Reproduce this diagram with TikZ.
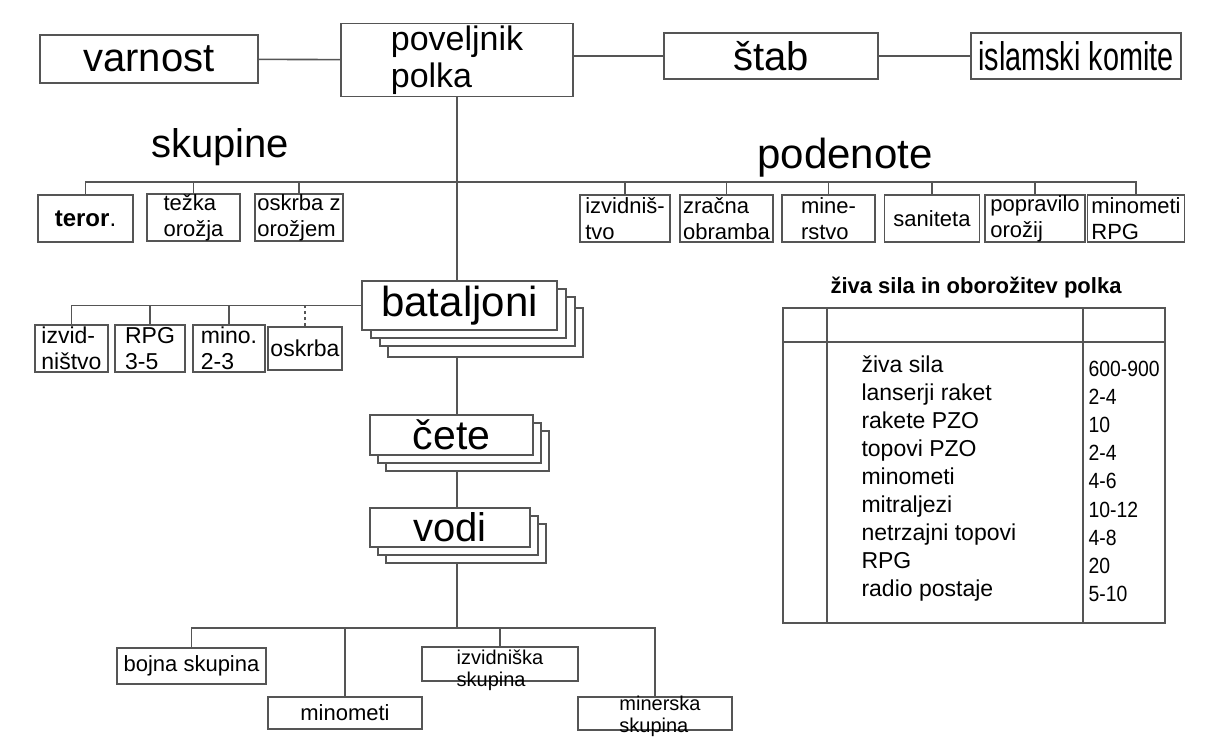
\documentclass[tikz,border=0pt]{standalone}
\usepackage{fontspec}
\setmainfont{Liberation Sans}
\newfontfamily\narrowsans[FakeStretch=0.72]{Liberation Sans}
\newfontfamily\numsans[FakeStretch=0.88]{Liberation Sans}
\usetikzlibrary{positioning,shadows,backgrounds}
\definecolor{inkgray}{HTML}{555555}
\newcommand{\sz}[2]{\fontsize{#1}{#2}\selectfont}

\begin{document}
\begin{tikzpicture}[
      x=1pt, y=-1pt,
      box/.style={rectangle, draw=inkgray, line width=1.6pt, fill=white, inner sep=0pt, align=left},
      link/.style={draw=inkgray, line width=1.6pt},
      small/.style={font=\sz{22}{26}},
      stacktwo/.style={copy shadow={shadow xshift=16pt, shadow yshift=-16pt}, copy shadow={shadow xshift=8pt, shadow yshift=-8pt}},
      stackthree/.style={copy shadow={shadow xshift=26pt, shadow yshift=-27pt}, copy shadow={shadow xshift=18pt, shadow yshift=-16pt}, copy shadow={shadow xshift=9pt, shadow yshift=-8pt}}
    ]
    \begin{scope}[on background layer]
      \path[use as bounding box, fill=white] (0,0) rectangle (1209,734);
    \end{scope}

    % top row
    \node[box, minimum width=218pt, minimum height=48pt, font=\sz{40}{44}] (varnost) at (149,59) {varnost};
    \node[box, minimum width=232pt, minimum height=73pt, font=\sz{34}{37}] (poveljnik) at (457,60) {poveljnik\\polka};
    \node[box, minimum width=214pt, minimum height=46pt, font=\sz{40}{44}] (stab) at (771,56) {štab};
    \node[box, minimum width=210pt, minimum height=46pt, font={\narrowsans\sz{40}{44}}] (komite) at (1076,56) {islamski komite};

    \node[font=\sz{40}{44}] (skupine) at (220,147) {skupine};
    \node[font=\sz{42}{46}] (podenote) at (845,158) {podenote};

    % skupine
    \node[box, minimum width=95pt, minimum height=47pt, font=\sz{24}{28}] (teror) at (85.5,218.5) {\textbf{teror}.};
    \node[box, small, minimum width=93pt, minimum height=45pt] (tezka) at (193.5,217.5) {težka\\orožja};
    \node[box, small, minimum width=88pt, minimum height=45pt] (oskrbaz) at (299,217.5) {oskrba z\\orožjem};

    % podenote
    \node[box, small, minimum width=90pt, minimum height=47pt] (izvidnistvo) at (625,218.5) {izvidniš-\\tvo};
    \node[box, small, minimum width=93pt, minimum height=47pt] (zracna) at (726.5,218.5) {zračna\\obramba};
    \node[box, small, minimum width=93pt, minimum height=47pt] (minerstvo) at (828.5,218.5) {mine-\\rstvo};
    \node[box, small, minimum width=95pt, minimum height=47pt] (saniteta) at (932,218.5) {saniteta};
    \node[box, small, minimum width=100pt, minimum height=47pt] (popravilo) at (1035,218.5) {popravilo\\orožij};
    \node[box, small, minimum width=97pt, minimum height=47pt] (minrpg) at (1136,218.5) {minometi\\RPG};

    % bataljoni
    \node[box, minimum width=195pt, minimum height=49pt, font=\sz{42}{46}, stackthree] (bataljoni) at (459.5,305.5) {bataljoni};
    \node[box, minimum width=73pt, minimum height=47pt, font=\sz{23}{26}] (bizvid) at (71.5,348.5) {izvid-\\ništvo};
    \node[box, minimum width=70pt, minimum height=47pt, font=\sz{23}{26}] (brpg) at (150,348.5) {RPG\\3-5};
    \node[box, minimum width=72pt, minimum height=47pt, font=\sz{23}{26}] (bmino) at (229,348.5) {mino.\\2-3};
    \node[box, minimum width=74pt, minimum height=43pt, font=\sz{23}{26}] (boskrba) at (305,348.5) {oskrba};

    \node[box, minimum width=163pt, minimum height=40pt, font=\sz{41}{45}, stacktwo] (cete) at (451.5,435) {čete};
    \node[box, minimum width=160pt, minimum height=39pt, font=\sz{40}{44}, stacktwo] (vodi) at (450,527.5) {vodi};

    % vodi
    \node[box, minimum width=149pt, minimum height=36pt, font=\sz{22}{26}] (bojna) at (191.5,666) {bojna skupina};
    \node[box, minimum width=154pt, minimum height=32pt, font=\sz{22}{26}] (vminometi) at (345,713) {minometi};
    \node[box, minimum width=156pt, minimum height=34pt, label={[font=\sz{20}{22}, align=left, yshift=-6pt]center:{izvidniška\\skupina}}] (vizvid) at (500,664) {};
    \node[box, minimum width=154pt, minimum height=33pt, label={[font=\sz{20}{22}, align=left, yshift=-3pt, xshift=5pt]center:{minerska\\skupina}}] (vminer) at (655,713.5) {};

    % table
    \node[font={\bfseries\sz{22}{26}}] (title) at (976,288) {živa sila in oborožitev polka};
    \draw[link] (783,308) rectangle (1165,623);
    \draw[link] (827,308) -- (827,623);
    \draw[link] (1083,308) -- (1083,623);
    \draw[link] (783,342) -- (1165,342);
    \foreach \lbl/\val [count=\i from 0] in {živa sila/600-900, lanserji raket/2-4, rakete PZO/10, topovi PZO/2-4, minometi/4-6, mitraljezi/10-12, netrzajni topovi/4-8, RPG/20, radio postaje/5-10}{
      \node[anchor=base west, font=\sz{23}{26}] (row\i) at (858,{372+28.1*\i}) {\lbl};
      \node[anchor=base west, font={\numsans\sz{22}{26}}] (val\i) at (1085,{376+28.2*\i}) {\val};
    }

    \begin{scope}[on background layer]
      \coordinate (sbus) at (0,182);
      \coordinate (bbus) at (0,628);
      \draw[link] (varnost) -- (poveljnik);
      \draw[link] (poveljnik.east |- stab) -- (stab);
      \draw[link] (stab) -- (komite);
      \draw[link] (poveljnik.south) -- (poveljnik.south |- bbus);

      \draw[link] (teror.north) -- (teror.north |- sbus) -- (minrpg.north |- sbus) -- (minrpg.north);
      \foreach \n in {tezka, oskrbaz, izvidnistvo, zracna, minerstvo, saniteta, popravilo}
        \draw[link] (\n.north) -- (\n.north |- sbus);

      \draw[link] (bataljoni.west) -- (bataljoni.west -| bizvid.north) -- (bizvid.north);
      \draw[link] (brpg.north) -- (brpg.north |- bataljoni.west);
      \draw[link] (bmino.north) -- (bmino.north |- bataljoni.west);
      \draw[link, dashed] (boskrba.north) -- (boskrba.north |- bataljoni.west);

      \draw[link] (bojna.north) -- (bojna.north |- bbus) -- (vminer.north |- bbus) -- (vminer.north);
      \draw[link] (vminometi.north) -- (vminometi.north |- bbus);
      \draw[link] (vizvid.north) -- (vizvid.north |- bbus);
    \end{scope}
  \end{tikzpicture}
\end{document}
